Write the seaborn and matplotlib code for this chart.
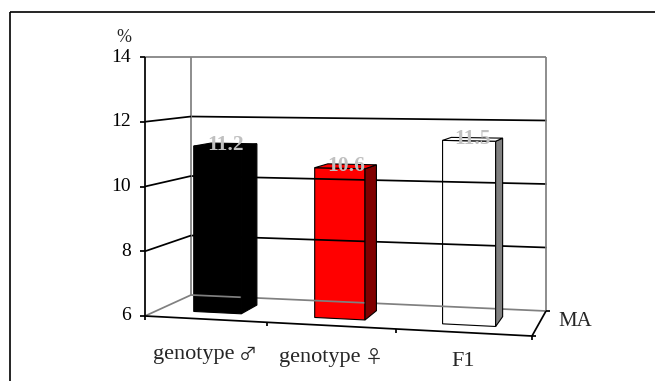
import numpy as np
import matplotlib
matplotlib.use("Agg")
import matplotlib.pyplot as plt
from matplotlib.transforms import Transform, Affine2D
from matplotlib.patches import Polygon
from matplotlib.lines import Line2D
import seaborn as sns

# ---------------- data ----------------
categories = ["genotype \u2642", "genotype \u2640", "F1"]
values = [11.2, 10.6, 11.5]
value_labels = ["11.2", "10.6", "11.5"]
y_ticks = [6, 8, 10, 12, 14]
y_min, y_max = 6, 14
series_name = "MA"
unit_label = "%"

# ---------------- styles ----------------
front_colors = ["#000000", "#ff0000", "#ffffff"]
side_colors = ["#000000", "#800000", "#808080"]
top_colors = ["#000000", "#ff0000", "#ffffff"]
GRAY = "#808080"
FONT = ["Liberation Serif", "DejaVu Serif", "DejaVu Sans"]
SYM_FONT = ["Noto Sans CJK JP", "DejaVu Sans"]
LW = 1.25

W, H = 655, 381
# pseudo-3D frame (pixel geometry of the floor corners and the eye line)
FL, FR, BL, BR = (145, 316), (532, 336), (191, 295), (546, 311)
HORIZON = 57
WARP_B = 0.0275
N = len(categories)
D_FRONT, D_BACK = 0.3, 0.7


def warp(u):
    a = 1 - N * WARP_B
    return a * u + WARP_B * u * u


def project(u, d, v):
    u = np.asarray(u, float)
    d = np.asarray(d, float)
    v = np.asarray(v, float)
    g = warp(u) / N
    fx = FL[0] + g * (FR[0] - FL[0]); fy = FL[1] + g * (FR[1] - FL[1])
    bx = BL[0] + g * (BR[0] - BL[0]); by = BL[1] + g * (BR[1] - BL[1])
    x = (1 - d) * fx + d * bx
    yf = (1 - d) * fy + d * by
    y = HORIZON + (yf - HORIZON) * (y_max - v) / (y_max - y_min)
    return x, y


class Proj(Transform):
    input_dims = 2
    output_dims = 2
    is_separable = False
    has_inverse = False

    def __init__(self, d):
        super().__init__()
        self.d = d

    def transform_non_affine(self, values):
        values = np.asarray(values, float).reshape(-1, 2)
        x, y = project(values[:, 0] + 0.5, self.d, values[:, 1])
        return np.column_stack([x, y])


sns.set_theme(style="white")
plt.rcParams["font.family"] = FONT

fig = plt.figure(figsize=(W / 100, H / 100), dpi=100)
fig.patch.set_facecolor("white")
pix = Affine2D().scale(1 / W, -1 / H).translate(0, 1) + fig.transFigure

ax = fig.add_axes([0, 0, 1, 1])
sns.barplot(x=categories, y=values, hue=categories, palette=front_colors,
            width=0.4, legend=False, ax=ax, edgecolor="black", linewidth=0.8,
            saturation=1)
ax.set_axis_off()


def seg(p0, p1, color="black", lw=LW, z=2):
    fig.add_artist(Line2D([p0[0], p1[0]], [p0[1], p1[1]], color=color, lw=lw,
                          transform=pix, zorder=z, solid_capstyle="butt"))


def P(u, d, v):
    x, y = project(u, d, v)
    return float(x), float(y)


# outer chart border (only left and top visible)
seg((10, 12), (10, H + 2), lw=1.2, z=10)
seg((10, 12), (W + 2, 12), lw=1.2, z=10)

# back wall & side wall frame
seg(P(0, 1, y_min), P(0, 1, y_max), GRAY)
seg(P(N, 1, y_min), P(N, 1, y_max), GRAY)
seg(P(0, 0, y_max), P(0, 1, y_max), GRAY)
seg(P(0, 1, y_max), P(N, 1, y_max), GRAY)
# floor back edges
seg(P(0, 0, y_min), P(0, 1, y_min), GRAY)
seg(P(0, 1, y_min), P(N, 1, y_min), GRAY)

# gridlines
for t in y_ticks:
    if y_min < t < y_max:
        uu = np.linspace(0, N, 40)
        xs, ys = project(uu, 1, t)
        fig.add_artist(Line2D(xs, ys, color="black", lw=LW, transform=pix, zorder=1))
        seg(P(0, 0, t), P(0, 1, t))

# value axis
seg(P(0, 0, y_min), P(0, 0, y_max), z=3)
for t in y_ticks:
    x, y = P(0, 0, t)
    seg((x - 5, y), (x, y), z=3)
    fig.text(x - 14, y, f"{t}", transform=pix, ha="right", va="center",
             fontsize=14, family=FONT, color="black")
x, y = P(0, 0, y_max)
fig.text(x - 21, y - 20, unit_label, transform=pix, ha="center", va="center",
         fontsize=13, family=FONT)

# category axis (front floor edge)
uu = np.linspace(0, N, 40)
xs, ys = project(uu, 0, y_min)
fig.add_artist(Line2D(xs, ys, color="black", lw=LW, transform=pix, zorder=3))
for i in range(N + 1):
    x, y = P(i, 0, y_min)
    seg((x, y), (x, y + 4), z=3)

renderer = fig.canvas.get_renderer()
GAP = 4
for i, lab in enumerate(categories):
    x, y = P(i + 0.5, 0, y_min)
    base = y + 40 - 0.5 * (y - 319)
    if not lab[-1].isascii() and " " in lab:
        word, sym = lab.rsplit(" ", 1)
        t1 = fig.text(0, base, word, transform=pix, ha="left", va="baseline",
                      fontsize=16, family=FONT)
        t2 = fig.text(0, base + 1, sym, transform=pix, ha="left", va="baseline",
                      fontsize=13, family=SYM_FONT)
        w1 = t1.get_window_extent(renderer).width
        w2 = t2.get_window_extent(renderer).width
        x0 = x - (w1 + GAP + w2) / 2
        t1.set_x(x0)
        t2.set_x(x0 + w1 + GAP)
    else:
        fig.text(x, base, lab, transform=pix, ha="center", va="baseline",
                 fontsize=16, family=FONT)

# series (depth) axis
seg(P(N, 0, y_min), P(N, 1, y_min), z=3)
for dd in (0, 1):
    x, y = P(N, dd, y_min)
    seg((x, y), (x + 4, y), z=3)
x, y = P(N, 0.5, y_min)
fig.text(x + 19, y - 1.5, series_name, transform=pix, ha="left", va="center",
         fontsize=15, family=FONT)

# bars: front faces are seaborn's own bars, projected; side/top faces derived
for i, patch in enumerate(ax.patches[:N]):
    val = patch.get_height()
    patch.set_y(y_min)
    patch.set_height(val - y_min)
    patch.set_transform(Proj(D_FRONT) + pix)
    patch.set_clip_on(False)
    patch.set_zorder(6)
    c0 = patch.get_x() + 0.5
    c1 = c0 + patch.get_width()
    side = [P(c1, D_FRONT, y_min), P(c1, D_BACK, y_min), P(c1, D_BACK, val), P(c1, D_FRONT, val)]
    top = [P(c0, D_FRONT, val), P(c1, D_FRONT, val), P(c1, D_BACK, val), P(c0, D_BACK, val)]
    for poly, col in ((side, side_colors[i]), (top, top_colors[i])):
        fig.add_artist(Polygon(poly, closed=True, facecolor=col, edgecolor="black",
                               lw=0.8, transform=pix, zorder=5))
    xm, ym = P((c0 + c1) / 2, 0.5, val)
    fig.text(xm, ym, value_labels[i], transform=pix, ha="center", va="center",
             fontsize=15.5, fontweight="bold", color="#c0c0c0", family=FONT, zorder=8)

fig.savefig("out.png", dpi=100, facecolor="white")
